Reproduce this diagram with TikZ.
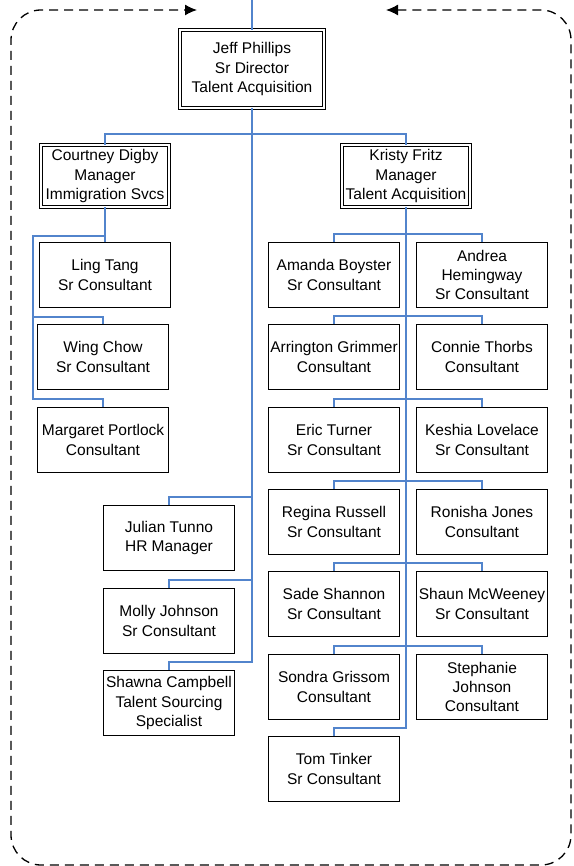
\documentclass[tikz,border=0pt]{standalone}
\usepackage{fontspec}
\setmainfont{Liberation Sans}
\usepackage{tikz}
\usetikzlibrary{arrows.meta,calc,positioning}

\definecolor{linkblue}{RGB}{82,132,204}

\begin{document}
\begin{tikzpicture}[x=1pt, y=-1pt]
			\tikzstyle{Box}		= [rectangle, draw, black, line width=1.1pt, fill=white, text=black, align=center, inner sep=0pt, minimum width=131pt, minimum height=65pt, font=\fontsize{15.5}{19.3}\selectfont]
			\tikzstyle{Head}	= [Box, double, line width=0.9pt, double distance=2pt, minimum width=128pt, minimum height=62pt]
			\tikzstyle{Link}	= [linkblue, line width=1.3pt]
			\tikzstyle{Frame}	= [black, line width=1.3pt, dash pattern=on 9pt off 6pt, rounded corners=30pt]
			
			\useasboundingbox (0,0) rectangle (573,866);
			
			% dashed frame
			\draw [Frame, {Latex[length=12pt,width=11pt]}-{Latex[length=12pt,width=11pt]}] (386,10) -- (571,10) -- (571,865) -- (11,865) -- (11,10) -- (197,10);
			
			% heads
			\node (jeff) at (252, 69) [Head][minimum width=144pt, minimum height=78pt] {Jeff Phillips\\Sr Director\\Talent Acquisition};
			\node (courtney) at (105, 176) [Head] {Courtney Digby\\Manager\\Immigration Svcs};
			\node (kristy) at (406, 176) [Head] {Kristy Fritz\\Manager\\Talent Acquisition};
			
			% immigration
			\node (ling) at (105, 275) [Box] {Ling Tang\\Sr Consultant};
			\node (wing) at (103, 357) [Box] {Wing Chow\\Sr Consultant};
			\node (margaret) at (103, 440) [Box] {Margaret Portlock\\Consultant};
			
			% direct staff
			\node (julian) at (169, 538) [Box] {Julian Tunno\\HR Manager};
			\node (molly) at (169, 621) [Box] {Molly Johnson\\Sr Consultant};
			\node (shawna) at (169, 703) [Box] {Shawna Campbell\\Talent Sourcing\\Specialist};
			
			% talent acquisition
			\node (amanda) at (334, 275) [Box] {Amanda Boyster\\Sr Consultant};
			\node (andrea) at (482, 275) [Box] {Andrea\\Hemingway\\Sr Consultant};
			\node (arrington) at (334, 357) [Box] {Arrington Grimmer\\Consultant};
			\node (connie) at (482, 357) [Box] {Connie Thorbs\\Consultant};
			\node (eric) at (334, 440) [Box] {Eric Turner\\Sr Consultant};
			\node (keshia) at (482, 440) [Box] {Keshia Lovelace\\Sr Consultant};
			\node (regina) at (334, 522) [Box] {Regina Russell\\Sr Consultant};
			\node (ronisha) at (482, 522) [Box] {Ronisha Jones\\Consultant};
			\node (sade) at (334, 604) [Box] {Sade Shannon\\Sr Consultant};
			\node (shaun) at (482, 604) [Box] {Shaun McWeeney\\Sr Consultant};
			\node (sondra) at (334, 687) [Box] {Sondra Grissom\\Consultant};
			\node (stephanie) at (482, 687) [Box] {Stephanie\\Johnson\\Consultant};
			\node (tom) at (334, 769) [Box] {Tom Tinker\\Sr Consultant};
			
			\coordinate (in) at (252, 0);
			\coordinate (jbus) at (252, 134);
			\coordinate (cleft) at (33, 236);
			
			\draw [-] (in) to (jeff.north) [Link];
			\draw [-] (jeff.south) -- (jbus) -| (courtney.north) [Link];
			\draw [-] (jbus) -| (kristy.north) [Link];
			
			\draw [-] (jeff.south) |- ($(julian.north)+(0,-8)$) -- (julian.north) [Link];
			\draw [-] (jeff.south) |- ($(molly.north)+(0,-8)$) -- (molly.north) [Link];
			\draw [-] (jeff.south) |- ($(shawna.north)+(0,-8)$) -- (shawna.north) [Link];
			
			\draw [-] (courtney.south) to (ling.north) [Link];
			\draw [-] (ling.north |- cleft) -- (cleft) |- ($(wing.north)+(0,-7)$) -- (wing.north) [Link];
			\draw [-] (cleft) |- ($(margaret.north)+(0,-8)$) -- (margaret.north) [Link];
			
			\draw [-] (kristy.south) |- ($(amanda.north)+(0,-8)$) -- (amanda.north) [Link];
			\draw [-] (kristy.south) |- ($(andrea.north)+(0,-8)$) -- (andrea.north) [Link];
			\draw [-] (kristy.south) |- ($(arrington.north)+(0,-8)$) -- (arrington.north) [Link];
			\draw [-] (kristy.south) |- ($(connie.north)+(0,-8)$) -- (connie.north) [Link];
			\draw [-] (kristy.south) |- ($(eric.north)+(0,-8)$) -- (eric.north) [Link];
			\draw [-] (kristy.south) |- ($(keshia.north)+(0,-8)$) -- (keshia.north) [Link];
			\draw [-] (kristy.south) |- ($(regina.north)+(0,-8)$) -- (regina.north) [Link];
			\draw [-] (kristy.south) |- ($(ronisha.north)+(0,-8)$) -- (ronisha.north) [Link];
			\draw [-] (kristy.south) |- ($(sade.north)+(0,-8)$) -- (sade.north) [Link];
			\draw [-] (kristy.south) |- ($(shaun.north)+(0,-8)$) -- (shaun.north) [Link];
			\draw [-] (kristy.south) |- ($(sondra.north)+(0,-8)$) -- (sondra.north) [Link];
			\draw [-] (kristy.south) |- ($(stephanie.north)+(0,-8)$) -- (stephanie.north) [Link];
			\draw [-] (kristy.south) |- ($(tom.north)+(0,-8)$) -- (tom.north) [Link];
		\end{tikzpicture}
\end{document}
